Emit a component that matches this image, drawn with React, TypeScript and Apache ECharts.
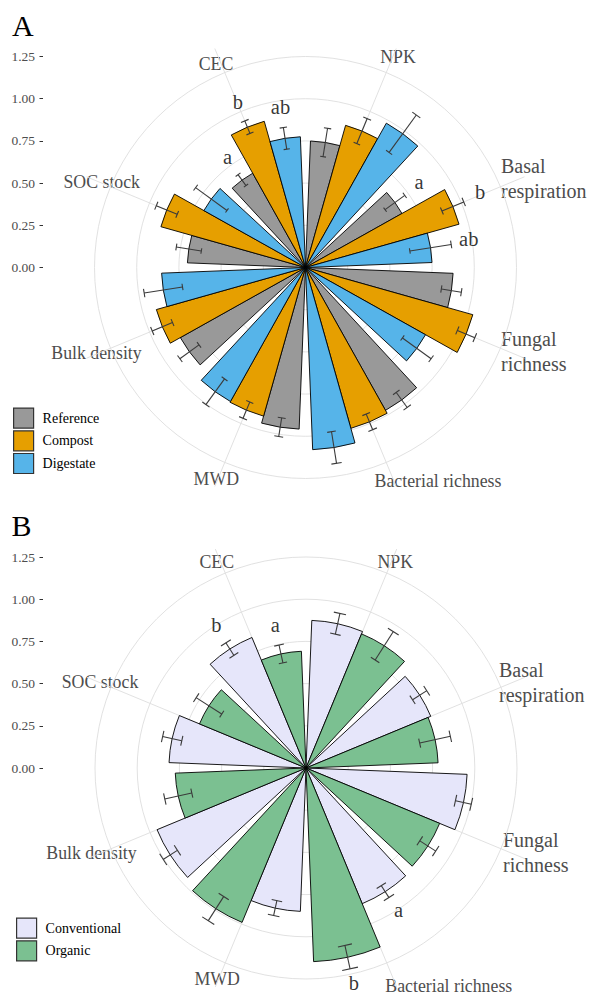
import React, { useEffect, useRef } from "react";
import * as echarts from "echarts";

// Soil indicators, clockwise from twelve o'clock
const categories = [
  "NPK",
  "Basal respiration",
  "Fungal richness",
  "Bacterial richness",
  "MWD",
  "Bulk density",
  "SOC stock",
  "CEC",
];
const categoryLabels = [
  "NPK",
  "Basal\nrespiration",
  "Fungal\nrichness",
  "Bacterial richness",
  "MWD",
  "Bulk density",
  "SOC stock",
  "CEC",
];
const radialTicks = [0, 0.25, 0.5, 0.75, 1, 1.25];

// Panel A: amendment treatments (relative values, mean and standard error)
const treatmentsA = ["Reference", "Compost", "Digestate"];
const referenceMean = [0.75, 0.655, 0.875, 0.97, 0.958, 0.85, 0.7, 0.64];
const referenceSE = [0.085, 0.072, 0.06, 0.055, 0.056, 0.07, 0.075, 0.04];
const compostMean = [0.875, 0.945, 1.03, 0.99, 0.915, 0.918, 0.89, 0.9];
const compostSE = [0.08, 0.07, 0.056, 0.05, 0.052, 0.065, 0.067, 0.04];
const digestateMean = [0.98, 0.75, 0.815, 1.08, 0.91, 0.853, 0.69, 0.775];
const digestateSE = [0.137, 0.124, 0.105, 0.095, 0.094, 0.115, 0.115, 0.065];
const referenceLetters = ["", "a", "", "", "", "", "", "a"];
const compostLetters = ["", "b", "", "", "", "", "", "b"];
const digestateLetters = ["", "ab", "", "", "", "", "", "ab"];

// Panel B: farming systems
const systemsB = ["Conventional", "Organic"];
const conventionalMean = [0.875, 0.8, 0.955, 0.87, 0.85, 0.955, 0.812, 0.837];
const conventionalSE = [0.063, 0.05, 0.048, 0.042, 0.045, 0.05, 0.058, 0.044];
const organicMean = [0.86, 0.783, 0.857, 1.148, 0.99, 0.775, 0.683, 0.692];
const organicSE = [0.1, 0.093, 0.056, 0.071, 0.085, 0.082, 0.09, 0.054];
const conventionalLetters = ["", "", "", "a", "", "", "", "b"];
const organicLetters = ["", "", "", "b", "", "", "", "a"];

// ---- styling / layout ----
const FONT = "'Liberation Serif', 'Times New Roman', serif";
const GRID_COLOR = "#DEDEDE";
const LABEL_COLOR = "#4D4D4D";
const ERR_COLOR = "#3A3A3A";
const R_DATA = 211; // pixel radius of the top tick
const R_OUTER = 237; // pixel radius reached by the spokes
const LETTER_GAP = 0.105;

type Group = { name: string; color: string; mean: number[]; se: number[]; letters: string[] };
type Place = { x: number; y: number; align: "left" | "center" | "right"; size: number };

const groupsA: Group[] = [
  { name: treatmentsA[0], color: "#999999", mean: referenceMean, se: referenceSE, letters: referenceLetters },
  { name: treatmentsA[1], color: "#E69F00", mean: compostMean, se: compostSE, letters: compostLetters },
  { name: treatmentsA[2], color: "#56B4E9", mean: digestateMean, se: digestateSE, letters: digestateLetters },
];
const groupsB: Group[] = [
  { name: systemsB[0], color: "#E6E6FA", mean: conventionalMean, se: conventionalSE, letters: conventionalLetters },
  { name: systemsB[1], color: "#7BC091", mean: organicMean, se: organicSE, letters: organicLetters },
];

const labelPlacesA: Place[] = [
  { x: 398, y: 57, align: "center", size: 17.8 },
  { x: 501, y: 178, align: "left", size: 20 },
  { x: 501, y: 351.6, align: "left", size: 20 },
  { x: 438, y: 480.7, align: "center", size: 17.8 },
  { x: 216.3, y: 479, align: "center", size: 17.8 },
  { x: 141.7, y: 353, align: "right", size: 17.8 },
  { x: 140, y: 182, align: "right", size: 17.8 },
  { x: 216, y: 64, align: "center", size: 17.8 },
];
const labelPlacesB: Place[] = [
  { x: 395.3, y: 562.3, align: "center", size: 17.8 },
  { x: 499, y: 682.3, align: "left", size: 20 },
  { x: 503, y: 852.6, align: "left", size: 20 },
  { x: 448.8, y: 986, align: "center", size: 17.8 },
  { x: 217.2, y: 979, align: "center", size: 17.8 },
  { x: 136.7, y: 853, align: "right", size: 17.8 },
  { x: 138.3, y: 682.3, align: "right", size: 17.8 },
  { x: 216.8, y: 562.3, align: "center", size: 17.8 },
];

const panels = [
  { title: "A", titleX: 12, titleY: 25, cx: 305.5, cy: 267.5, groups: groupsA, labels: labelPlacesA, legendLeft: 13, legendTop: 407.5 },
  { title: "B", titleX: 11.5, titleY: 525, cx: 306, cy: 768, groups: groupsB, labels: labelPlacesB, legendLeft: 16, legendTop: 917.5 },
];

function buildOption() {
  const rMax = radialTicks[radialTicks.length - 1];
  const step = radialTicks[1] - radialTicks[0];
  const nCat = categories.length;

  const polar: any[] = [];
  const angleAxis: any[] = [];
  const radiusAxis: any[] = [];
  const grid: any[] = [];
  const xAxis: any[] = [];
  const yAxis: any[] = [];
  const series: any[] = [];
  const legend: any[] = [];
  const graphic: any[] = [];

  panels.forEach((p, k) => {
    const barPolar = 2 * k;
    const overlayPolar = 2 * k + 1;
    const n = p.groups.length;
    const slot = 0.9 / n;
    const capHalf = 0.1 / n;
    // angular position (overlay units) of a dodged bar's centre
    const dodge = (ci: number, gi: number) => ci - 0.45 + slot * (gi + 0.5);

    polar.push({ center: [p.cx, p.cy], radius: R_DATA });
    polar.push({ center: [p.cx, p.cy], radius: R_OUTER });

    // bars: category angle axis starting at 12 o'clock
    angleAxis.push({
      polarIndex: barPolar,
      type: "category",
      data: categories,
      startAngle: 90,
      clockwise: true,
      axisLine: { show: false },
      axisTick: { show: false },
      axisLabel: { show: false },
      splitLine: { show: false },
      splitArea: { show: false },
    });
    radiusAxis.push({
      polarIndex: barPolar,
      type: "value",
      min: 0,
      max: rMax,
      interval: step,
      axisLine: { show: false },
      axisTick: { show: false },
      axisLabel: { show: false },
      splitLine: { show: true, lineStyle: { color: GRID_COLOR, width: 0.9 } },
      splitArea: { show: false },
    });

    // overlay: value angle axis whose integer ticks sit at category centres
    angleAxis.push({
      polarIndex: overlayPolar,
      type: "value",
      min: 0,
      max: nCat,
      interval: 1,
      startAngle: 90 - 180 / nCat,
      clockwise: true,
      axisLine: { show: false },
      axisTick: { show: false },
      axisLabel: { show: false },
      splitLine: { show: true, lineStyle: { color: GRID_COLOR, width: 0.9 } },
      splitArea: { show: false },
    });
    radiusAxis.push({
      polarIndex: overlayPolar,
      type: "value",
      min: 0,
      max: (rMax * R_OUTER) / R_DATA,
      axisLine: { show: false },
      axisTick: { show: false },
      axisLabel: { show: false },
      splitLine: { show: false },
      splitArea: { show: false },
    });

    // radial scale drawn on the left
    grid.push({ left: 43, top: p.cy - R_DATA, width: 1, height: R_DATA });
    xAxis.push({ gridIndex: k, type: "value", show: false, min: 0, max: 1 });
    yAxis.push({
      gridIndex: k,
      type: "value",
      min: radialTicks[0],
      max: rMax,
      interval: step,
      axisLine: { show: false },
      axisTick: { show: true, length: 3.5, lineStyle: { color: "#333333", width: 1 } },
      axisLabel: {
        color: LABEL_COLOR,
        fontFamily: FONT,
        fontSize: 13.5,
        margin: 8,
        formatter: (v: number) => v.toFixed(2),
      },
      splitLine: { show: false },
    });

    p.groups.forEach((g) => {
      series.push({
        type: "bar",
        name: g.name,
        coordinateSystem: "polar",
        polarIndex: barPolar,
        data: g.mean,
        barGap: "0%",
        barCategoryGap: "10%",
        silent: true,
        z: 2,
        itemStyle: { color: g.color, borderColor: "#000000", borderWidth: 0.9 },
        emphasis: { disabled: true },
      });
    });

    // error bars
    const errData: number[][] = [];
    p.groups.forEach((g, gi) => {
      g.mean.forEach((m, ci) => errData.push([m, ci, gi, g.se[ci]]));
    });
    series.push({
      type: "custom",
      coordinateSystem: "polar",
      polarIndex: overlayPolar,
      silent: true,
      z: 3,
      encode: { radius: 0, angle: 1 },
      data: errData,
      renderItem: (_params: any, api: any) => {
        const m = api.value(0);
        const se = api.value(3);
        const a = dodge(api.value(1), api.value(2));
        const lo = api.coord([m - se, a]);
        const hi = api.coord([m + se, a]);
        const lo1 = api.coord([m - se, a - capHalf]);
        const lo2 = api.coord([m - se, a + capHalf]);
        const hi1 = api.coord([m + se, a - capHalf]);
        const hi2 = api.coord([m + se, a + capHalf]);
        const style = { stroke: ERR_COLOR, lineWidth: 1.1 };
        const seg = (s: number[], e: number[]) => ({
          type: "line",
          shape: { x1: s[0], y1: s[1], x2: e[0], y2: e[1] },
          style,
        });
        return { type: "group", children: [seg(lo, hi), seg(lo1, lo2), seg(hi1, hi2)] };
      },
    });

    // significance letters just beyond each error bar
    const letterData: any[] = [];
    p.groups.forEach((g, gi) => {
      g.letters.forEach((t, ci) => {
        if (t) letterData.push({ name: t, value: [g.mean[ci] + g.se[ci] + LETTER_GAP, dodge(ci, gi)] });
      });
    });
    series.push({
      type: "scatter",
      coordinateSystem: "polar",
      polarIndex: overlayPolar,
      silent: true,
      z: 4,
      symbolSize: 1,
      itemStyle: { color: "rgba(255,255,255,0)" },
      data: letterData,
      label: {
        show: true,
        position: "inside",
        offset: [0, -3],
        formatter: "{b}",
        color: "#000000",
        textBorderWidth: 0,
        fontFamily: FONT,
        fontSize: 20.5,
      },
      emphasis: { disabled: true },
    });

    legend.push({
      data: p.groups.map((g) => g.name),
      orient: "vertical",
      left: p.legendLeft,
      top: p.legendTop,
      padding: 0,
      itemWidth: 20,
      itemHeight: 20,
      itemGap: 1.5,
      icon: "rect",
      selectedMode: false,
      itemStyle: { borderColor: "#333333", borderWidth: 1.2 },
      textStyle: { fontFamily: FONT, fontSize: 14, color: "#000000", padding: [0, 0, 0, 4] },
    });

    graphic.push({
      type: "text",
      x: p.titleX,
      y: p.titleY,
      silent: true,
      style: { text: p.title, fontFamily: FONT, fontSize: 30, fill: "#000000", align: "left", verticalAlign: "middle" },
    });
    categoryLabels.forEach((lab, ci) => {
      const pl = p.labels[ci];
      graphic.push({
        type: "text",
        x: pl.x,
        y: pl.y,
        silent: true,
        style: {
          text: lab,
          fontFamily: FONT,
          fontSize: pl.size,
          fill: LABEL_COLOR,
          align: pl.align,
          verticalAlign: "middle",
          lineHeight: 25,
        },
      });
    });
  });

  return {
    animation: false,
    backgroundColor: "#FFFFFF",
    textStyle: { fontFamily: FONT },
    polar,
    angleAxis,
    radiusAxis,
    grid,
    xAxis,
    yAxis,
    legend,
    series,
    graphic,
  };
}

export default function App() {
  const ref = useRef<HTMLDivElement>(null);
  useEffect(() => {
    if (!ref.current) return;
    const chart = echarts.init(ref.current, null, { renderer: "svg" });
    chart.setOption(buildOption());
    return () => chart.dispose();
  }, []);
  return (
    <div
      ref={ref}
      style={{ position: "absolute", left: 0, top: 0, width: 590, height: 996, background: "#FFFFFF" }}
    />
  );
}
